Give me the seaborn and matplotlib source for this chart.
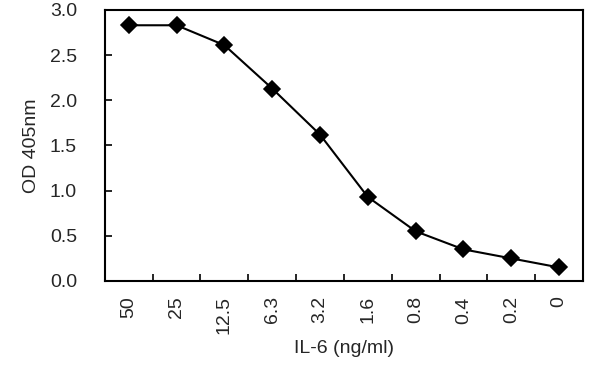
import numpy as np
import matplotlib
matplotlib.use('Agg')
import matplotlib.pyplot as plt
import seaborn as sns

# ~ data
conc = ['50', '25', '12.5', '6.3', '3.2', '1.6', '0.8', '0.4', '0.2', '0']
od405 = [2.83, 2.83, 2.61, 2.13, 1.62, 0.93, 0.55, 0.35, 0.25, 0.15]

sns.set_style('white')
plt.rcParams['font.family'] = ['Liberation Sans', 'DejaVu Sans']

fig = plt.figure(figsize=(6.06, 3.81), dpi=100)
ax = fig.add_axes([0.173, 0.2625, 0.789, 0.7115])

sns.pointplot(x=conc, y=od405, color='black', markers='D', ax=ax,
              linewidth=1.5, markersize=7.8, order=conc)

fs = 14
ax.set_xlim(-0.5, len(conc) - 0.5)
ax.set_ylim(0, 3.0)
ax.set_yticks(np.arange(0, 3.01, 0.5))
ax.set_yticklabels([f'{v:.1f}' for v in np.arange(0, 3.01, 0.5)], fontsize=fs)
ax.set_xticks(range(len(conc)))
ax.set_xticklabels(conc, rotation=90, fontsize=fs)
ax.tick_params(axis='x', which='major', length=0, pad=11)
# ~ Excel-style ticks sit between the categories
ax.set_xticks(np.arange(0.5, len(conc) - 1, 1), minor=True)
ax.tick_params(axis='x', which='minor', direction='in', length=5, width=1.2,
               color='black', bottom=True)
ax.tick_params(axis='y', direction='in', length=5, width=1.2, color='black', left=True, pad=20)

for s in ax.spines.values():
    s.set_visible(True)
    s.set_color('black')
    s.set_linewidth(1.5)

ax.set_xlabel('IL-6 (ng/ml)', fontsize=fs, labelpad=4)
ax.set_ylabel('OD 405nm', fontsize=fs, labelpad=7)

fig.savefig('out.png', dpi=100)
